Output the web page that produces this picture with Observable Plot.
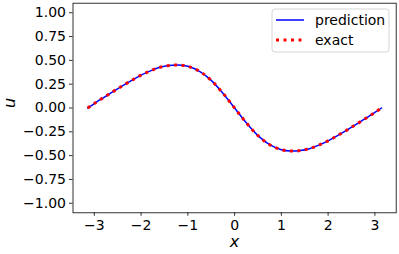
<!DOCTYPE html>
<html>
<head>
<meta charset="utf-8">
<script src="https://cdn.jsdelivr.net/npm/d3@7"></script>
<script src="https://cdn.jsdelivr.net/npm/@observablehq/plot@0.6"></script>
<style>
  html, body { margin: 0; padding: 0; background: #fff; }
  #chart { width: 399px; height: 254px; }
</style>
</head>
<body>
<div id="chart"></div>
<script>
// Values
const xValues = [-3.1416, -3.0, -2.8, -2.6, -2.4, -2.2, -2.0, -1.8, -1.6, -1.4, -1.2, -1.0, -0.75, -0.5, -0.25, 0,
                 0.25, 0.5, 0.75, 1.0, 1.2, 1.4, 1.6, 1.8, 2.0, 2.2, 2.4, 2.6, 2.8, 3.0, 3.1416];
const uPrediction = [0, 0.047, 0.11, 0.172, 0.232, 0.29, 0.345, 0.39, 0.427, 0.447, 0.452, 0.438, 0.385, 0.29, 0.155, 0,
                     -0.155, -0.29, -0.385, -0.438, -0.452, -0.447, -0.427, -0.39, -0.345, -0.29, -0.232, -0.172, -0.11, -0.047, 0];
const uExact = uPrediction.slice();
const xTicks = [-3, -2, -1, 0, 1, 2, 3];
const yTicks = [-1.0, -0.75, -0.5, -0.25, 0, 0.25, 0.5, 0.75, 1.0];
const seriesNames = ["prediction", "exact"];

const pred = xValues.map((x, i) => ({x, u: uPrediction[i]}));
const exact = xValues.map((x, i) => ({x, u: uExact[i]}));

const font = "DejaVu Sans";
const plot = Plot.plot({
  width: 399,
  height: 254,
  marginLeft: 72.5,
  marginRight: 3.3,
  marginTop: 2.7,
  marginBottom: 41.7,
  style: {fontFamily: font, fontSize: "14px", color: "#000", background: "#fff"},
  x: {domain: [-3.456, 3.456]},
  y: {domain: [-1.1, 1.1]},
  marks: [
    Plot.axisX({ticks: xTicks, tickSize: 3.5, tickPadding: 3.5, fontSize: 14, label: null, tickFormat: d3.format("d"), strokeWidth: 0.8}),
    Plot.axisY({ticks: yTicks, tickSize: 3.5, tickPadding: 3.5, fontSize: 14, label: null, tickFormat: d3.format(".2f"), strokeWidth: 0.8}),
    Plot.line(pred, {x: "x", y: "u", stroke: "#0000ff", strokeWidth: 1.5, curve: "catmull-rom"}),
    Plot.line(exact, {x: "x", y: "u", stroke: "#ff0000", strokeWidth: 3, strokeDasharray: "3,4.5", strokeLinecap: "butt", curve: "catmull-rom"}),
    Plot.frame({stroke: "#000", strokeWidth: 0.8}),
    Plot.text(["x"], {frameAnchor: "bottom", dy: 29, lineAnchor: "middle", text: d => d, fontSize: 16, fontStyle: "italic"}),
    Plot.text(["u"], {frameAnchor: "left", dx: -63, lineAnchor: "middle", text: d => d, fontSize: 16, fontStyle: "italic", rotate: -90})
  ]
});
document.getElementById("chart").appendChild(plot);

// Legend (matplotlib-style box, upper right)
const svg = d3.select(plot);
const lg = svg.append("g").attr("font-family", font).attr("font-size", 14).attr("text-anchor", "start");
lg.append("rect").attr("x", 272).attr("y", 9).attr("width", 117).attr("height", 43)
  .attr("rx", 3).attr("fill", "#fff").attr("fill-opacity", 0.8).attr("stroke", "#cccccc").attr("stroke-width", 0.8);
const items = [
  {name: seriesNames[0], y: 20, stroke: "#0000ff", width: 1.5, dash: null},
  {name: seriesNames[1], y: 40, stroke: "#ff0000", width: 3, dash: "3,4.5"}
];
items.forEach(it => {
  lg.append("line").attr("x1", 276).attr("x2", 304).attr("y1", it.y).attr("y2", it.y)
    .attr("stroke", it.stroke).attr("stroke-width", it.width).attr("stroke-dasharray", it.dash);
  lg.append("text").attr("x", 315).attr("y", it.y).attr("dy", "0.35em").attr("text-anchor", "start").text(it.name);
});
</script>
</body>
</html>
